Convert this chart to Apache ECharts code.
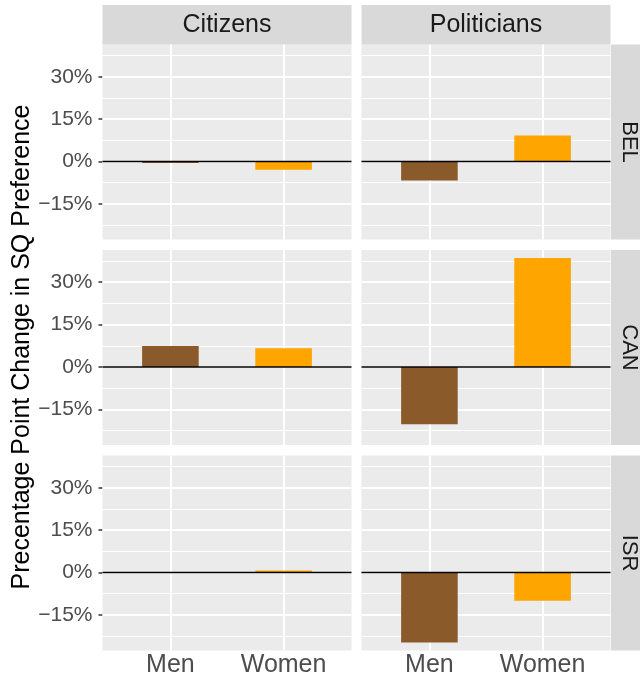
<!DOCTYPE html>
<html>
<head>
<meta charset="utf-8">
<script src="https://cdn.jsdelivr.net/npm/echarts@6/dist/echarts.min.js"></script>
<style>
  html, body { margin: 0; padding: 0; background: #ffffff; }
  #chart { width: 640px; height: 683px; }
</style>
</head>
<body>
<div id="chart"></div>
<script>
// Facet labels
const groups = ['Citizens', 'Politicians'];
const countries = ['BEL', 'CAN', 'ISR'];
const genders = ['Men', 'Women'];

// Percentage point change in status-quo preference, [Men, Women]
const citizensBEL = [-0.5, -2.9];
const politiciansBEL = [-6.7, 9.2];
const citizensCAN = [7.4, 6.6];
const politiciansCAN = [-20.3, 38.6];
const citizensISR = [0, 0.7];
const politiciansISR = [-24.8, -10.0];

// Axis ticks
const yTicks = [-15, 0, 15, 30];
const yMinor = [-22.5, -7.5, 7.5, 22.5, 37.5];
const yRange = [-27.6, 41.4];
const xPositions = [1, 2];
const xRange = [0.4, 2.6];

const genderColors = ['#8B5A2B', '#FFA500'];
const yTitle = 'Precentage Point Change in SQ Preference';

const panelValues = [
  [citizensBEL, politiciansBEL],
  [citizensCAN, politiciansCAN],
  [citizensISR, politiciansISR]
];

// Panel layout (px)
const colLeft = [102.5, 361.5];
const colWidth = 249;
const rowTop = [44.5, 250, 455.5];
const rowHeight = 195;
const font = '"Liberation Sans", Arial, Helvetica, sans-serif';

const fmtPct = v => (v < 0 ? '\u2212' + Math.abs(v) : String(v)) + '%';

const grids = [], xAxes = [], yAxes = [], series = [];
let idx = 0;
for (let r = 0; r < countries.length; r++) {
  for (let c = 0; c < groups.length; c++) {
    grids.push({
      left: colLeft[c], top: rowTop[r], width: colWidth, height: rowHeight,
      show: true, backgroundColor: '#EBEBEB', borderWidth: 0, containLabel: false
    });
    const bottomRow = r === countries.length - 1;
    const leftCol = c === 0;
    xAxes.push({
      type: 'value', gridIndex: idx, min: xRange[0], max: xRange[1],
      axisLine: { show: false },
      splitLine: { show: false },
      axisTick: { show: bottomRow, customValues: xPositions, length: 4,
                  lineStyle: { color: '#333333', width: 1.5 } },
      axisLabel: { show: bottomRow, customValues: xPositions, margin: 2,
                   formatter: v => genders[Math.round(v) - 1] || '',
                   fontFamily: font, fontSize: 25, color: '#4D4D4D' }
    });
    yAxes.push({
      type: 'value', gridIndex: idx, min: yRange[0], max: yRange[1],
      axisLine: { show: false },
      splitLine: { show: false },
      axisTick: { show: leftCol, customValues: yTicks, length: 4,
                  lineStyle: { color: '#333333', width: 1.5 } },
      axisLabel: { show: leftCol, customValues: yTicks, margin: 10,
                   formatter: fmtPct,
                   fontFamily: font, fontSize: 21, color: '#4D4D4D' }
    });

    const vals = panelValues[r][c];
    const gridLines = [];
    yMinor.forEach(v => gridLines.push({ yAxis: v, lineStyle: { width: 1 } }));
    yTicks.forEach(v => gridLines.push({ yAxis: v, lineStyle: { width: 2 } }));
    xPositions.forEach(v => gridLines.push({ xAxis: v, lineStyle: { width: 2 } }));

    series.push({
      type: 'bar', xAxisIndex: idx, yAxisIndex: idx, z: 2,
      barWidth: colWidth * 0.5 / (xRange[1] - xRange[0]),
      data: vals.map((v, i) => ({ value: [xPositions[i], v],
                                   itemStyle: { color: genderColors[i] } })),
      markLine: {
        silent: true, symbol: 'none', z: 1, animation: false,
        label: { show: false },
        lineStyle: { color: '#FFFFFF', type: 'solid', opacity: 1 },
        data: gridLines
      }
    });
    // zero reference line
    series.push({
      type: 'line', xAxisIndex: idx, yAxisIndex: idx, z: 3,
      symbol: 'none', silent: true,
      lineStyle: { color: '#000000', width: 1.6 },
      data: [[xRange[0], 0], [xRange[1], 0]]
    });
    idx++;
  }
}

const graphics = [];
groups.forEach((g, c) => {
  graphics.push({ type: 'rect', shape: { x: colLeft[c], y: 5, width: colWidth, height: 39.5 },
                  style: { fill: '#D9D9D9' }, silent: true });
  graphics.push({ type: 'text', x: colLeft[c] + colWidth / 2, y: 25,
                  style: { text: g, fontFamily: font, fontSize: 25, fill: '#1A1A1A',
                           align: 'center', verticalAlign: 'middle' }, silent: true });
});
countries.forEach((k, r) => {
  graphics.push({ type: 'rect', shape: { x: 611, y: rowTop[r], width: 40, height: rowHeight },
                  style: { fill: '#D9D9D9' }, silent: true });
  graphics.push({ type: 'text', x: 629, y: rowTop[r] + rowHeight / 2,
                  rotation: -Math.PI / 2,
                  style: { text: k, fontFamily: font, fontSize: 22, fill: '#1A1A1A',
                           align: 'center', verticalAlign: 'middle' }, silent: true });
});
graphics.push({ type: 'text', x: 22, y: 347, rotation: Math.PI / 2,
                style: { text: yTitle, fontFamily: font, fontSize: 25, fill: '#000000',
                         align: 'center', verticalAlign: 'middle' }, silent: true });

const chart = echarts.init(document.getElementById('chart'), null, { renderer: 'canvas' });
chart.setOption({
  animation: false,
  backgroundColor: '#FFFFFF',
  grid: grids,
  xAxis: xAxes,
  yAxis: yAxes,
  series: series,
  graphic: graphics
});
</script>
</body>
</html>
